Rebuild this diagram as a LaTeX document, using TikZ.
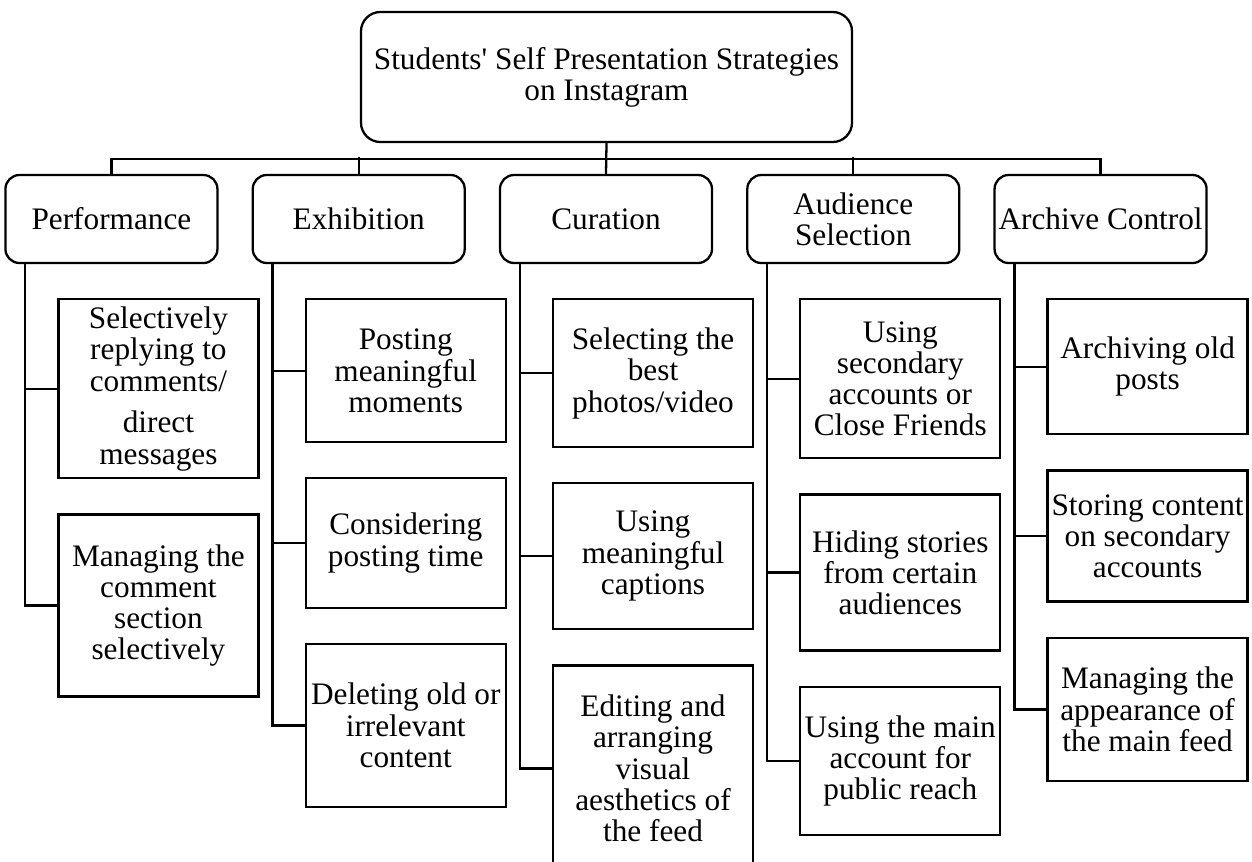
\documentclass[tikz,border=0pt]{standalone}
\usepackage{fontspec}
\setmainfont{Liberation Serif}
\usetikzlibrary{positioning}

\begin{document}
\begin{tikzpicture}[
  font=\fontsize{17.8}{17.8}\selectfont,
  line width=1.3pt,
  box/.style={draw, align=center, inner sep=1pt},
  head/.style={box, rounded corners=8pt, minimum width=42.4mm, minimum height=17.6mm},
  leaf/.style={box, minimum width=40mm},
  link/.style={draw}]
  \useasboundingbox (0,0) rectangle (25.04,-17.22);
  \node[box, rounded corners=11pt, minimum width=98.2mm, minimum height=26mm] (root) at (12.13,-1.54) {Students\textquotesingle\ Self Presentation Strategies\\on Instagram};
  % strategy categories
  \node[head] (cur) at (12.12,-4.38) {Curation};
  \node[head, left=6.6mm of cur] (exh) {Exhibition};
  \node[head, left=6.6mm of exh] (perf) {Performance};
  \node[head, right=6.6mm of cur] (aud) {Audience\\Selection};
  \node[head, right=6.6mm of aud] (arch) {Archive Control};
  % practices under each category
  \node[leaf, minimum height=35.8mm, anchor=north west] (perf1) at ([xshift=10.6mm, yshift=-6.8mm]perf.south west) {Selectively\\replying to\\comments/\\[6pt]direct\\messages};
  \node[leaf, minimum height=36.4mm, below=6.8mm of perf1] (perf2) {Managing the\\comment\\section\\selectively};
  \node[leaf, minimum height=28.6mm, anchor=north west] (exh1) at ([xshift=10.6mm, yshift=-6.8mm]exh.south west) {Posting\\meaningful\\moments};
  \node[leaf, minimum height=26mm, below=6.7mm of exh1] (exh2) {Considering\\posting time};
  \node[leaf, minimum height=32.6mm, below=6.7mm of exh2] (exh3) {Deleting old or\\irrelevant\\content};
  \node[leaf, minimum height=29.6mm, anchor=north west] (cur1) at ([xshift=10.6mm, yshift=-6.8mm]cur.south west) {Selecting the\\best\\photos/video};
  \node[leaf, minimum height=29.2mm, below=6.7mm of cur1] (cur2) {Using\\meaningful\\captions};
  \node[leaf, minimum height=41.2mm, below=6.8mm of cur2] (cur3) {Editing and\\arranging\\visual\\aesthetics of\\the feed};
  \node[leaf, minimum height=31.8mm, anchor=north west] (aud1) at ([xshift=10.6mm, yshift=-6.8mm]aud.south west) {Using\\secondary\\accounts or\\Close Friends};
  \node[leaf, minimum height=31.2mm, below=6.8mm of aud1] (aud2) {Hiding stories\\from certain\\audiences};
  \node[leaf, minimum height=29.6mm, below=6.8mm of aud2] (aud3) {Using the main\\account for\\public reach};
  \node[leaf, minimum height=27mm, anchor=north west] (arch1) at ([xshift=10.6mm, yshift=-6.8mm]arch.south west) {Archiving old\\posts};
  \node[leaf, minimum height=26.2mm, below=6.8mm of arch1] (arch2) {Storing content\\on secondary\\accounts};
  \node[leaf, minimum height=28.6mm, below=6.8mm of arch2] (arch3) {Managing the\\appearance of\\the main feed};
  % bus from the root to the categories
  \draw[link] (root.south) -- (cur.north);
  \draw[link] (perf.north) |- ([yshift=-3.2mm]root.south) -| (arch.north);
  \draw[link] (exh.north) -- ++(0,3.4mm);
  \draw[link] (aud.north) -- ++(0,3.4mm);
  % rails down the left of each column
  \draw[link] ([xshift=4.2mm]perf.south west) |- (perf2.west);
  \draw[link] (perf1.west) -- ++(-6.4mm,0);
  \draw[link] ([xshift=4.2mm]exh.south west) |- (exh3.west);
  \draw[link] (exh1.west) -- ++(-6.4mm,0);
  \draw[link] (exh2.west) -- ++(-6.4mm,0);
  \draw[link] ([xshift=4.2mm]cur.south west) |- (cur3.west);
  \draw[link] (cur1.west) -- ++(-6.4mm,0);
  \draw[link] (cur2.west) -- ++(-6.4mm,0);
  \draw[link] ([xshift=4.2mm]aud.south west) |- (aud3.west);
  \draw[link] (aud1.west) -- ++(-6.4mm,0);
  \draw[link] (aud2.west) -- ++(-6.4mm,0);
  \draw[link] ([xshift=4.2mm]arch.south west) |- (arch3.west);
  \draw[link] (arch1.west) -- ++(-6.4mm,0);
  \draw[link] (arch2.west) -- ++(-6.4mm,0);
\end{tikzpicture}
\end{document}
